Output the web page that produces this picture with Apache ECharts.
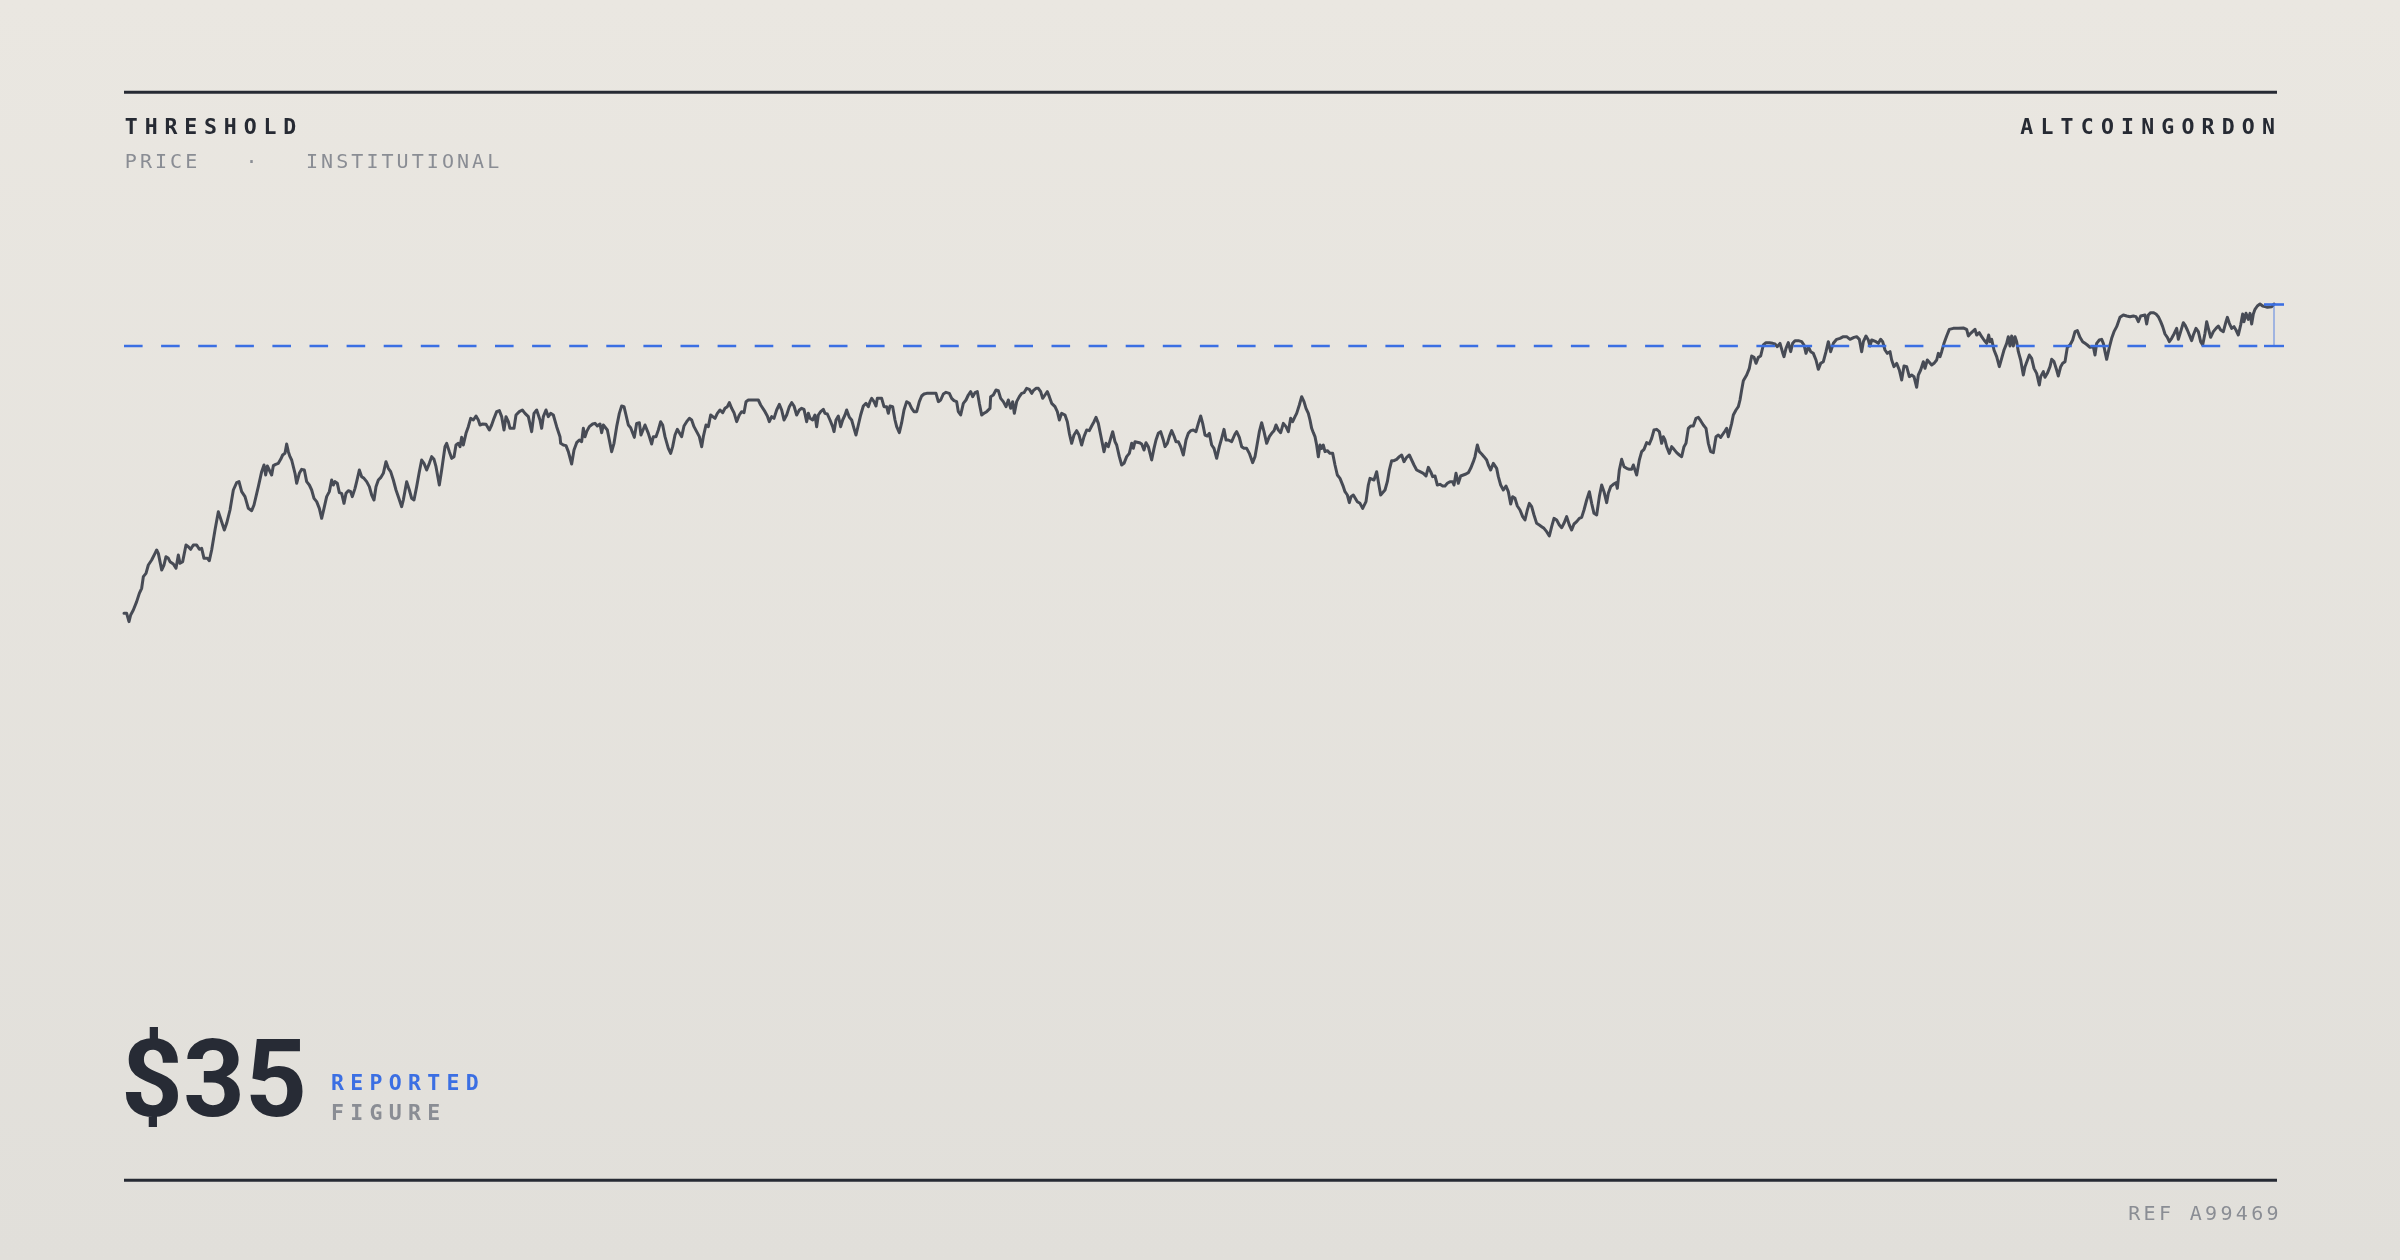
<!DOCTYPE html>
<html>
<head>
<meta charset="utf-8">
<script src="https://cdn.jsdelivr.net/npm/echarts@6/dist/echarts.min.js"></script>
<style>
  html, body { margin: 0; padding: 0; width: 2400px; height: 1260px; overflow: hidden; }
  #chart { width: 2400px; height: 1260px; }
</style>
</head>
<body>
<div id="chart"></div>
<script>
// ---- DATA: [hour, price in cents] ----
const leg1 = [[0,1644],[8,1644],[15,1594],[20,1634],[28,1664],[38,1714],[46,1764],[53,1794],[58,1864],[66,1884],[73,1934],[83,1964],[93,2004],[98,2024],[103,2004],[108,1954],[113,1904],[120,1934],[126,1984],[133,1974],[138,1954],[148,1940],[156,1914],[163,1994],[168,1944],[176,1954],[186,2054],[193,2044],[200,2028],[208,2054],[218,2054],[226,2028],[233,2034],[240,1974],[246,1964],[250,1974],[256,1960],[263,2024],[273,2144],[283,2254],[288,2224],[301,2144],[308,2184],[318,2264],[328,2384],[338,2428],[345,2434],[353,2374],[363,2344],[373,2274],[383,2260],[390,2294],[403,2404],[413,2494],[420,2534],[425,2474],[430,2528],[436,2540],[443,2474],[448,2530],[455,2538],[463,2544],[470,2568],[476,2594],[483,2604],[488,2660],[493,2614],[498,2584],[503,2564],[513,2484],[518,2424],[526,2484],[533,2508],[541,2504],[548,2434],[556,2414],[563,2384],[570,2334],[578,2314],[586,2274],[593,2214],[600,2274],[608,2344],[616,2374],[623,2444],[628,2414],[633,2434],[640,2424],[646,2368],[653,2364],[660,2304],[666,2364],[673,2380],[680,2374],[685,2344],[693,2394],[698,2434],[706,2504],[713,2464],[720,2454],[728,2434],[736,2404],[743,2354],[750,2324],[756,2404],[763,2444],[770,2458],[778,2484],[786,2554],[793,2514],[800,2494],[808,2444],[816,2384],[823,2344],[833,2284],[838,2324],[848,2434],[856,2384],[863,2334],[870,2324],[878,2404],[886,2494],[893,2564],[900,2544],[908,2504],[916,2544],[923,2584],[930,2568],[936,2524],[946,2414],[953,2504],[963,2644],[968,2664],[976,2614],[983,2574],[990,2584],[996,2654],[1003,2664],[1008,2644],[1013,2700],[1018,2654],[1026,2724],[1033,2764],[1040,2814],[1048,2804],[1056,2828],[1063,2804],[1068,2774],[1076,2780],[1086,2778],[1096,2744],[1103,2774],[1110,2814],[1118,2854],[1126,2860],[1133,2824],[1140,2744],[1146,2824],[1153,2794],[1158,2754],[1170,2754],[1176,2834],[1186,2854],[1195,2864],[1203,2844],[1213,2824],[1223,2734],[1230,2844],[1238,2864],[1248,2804],[1253,2754],[1258,2824],[1266,2864],[1273,2824],[1280,2844],[1288,2834],[1298,2764],[1308,2704]];

const leg2 = [[1310,2664],[1318,2654],[1326,2650],[1333,2614],[1343,2540],[1350,2624],[1358,2668],[1366,2684],[1373,2674],[1378,2754],[1383,2704],[1388,2734],[1396,2764],[1406,2780],[1413,2784],[1420,2768],[1428,2780],[1433,2728],[1438,2774],[1443,2778],[1450,2744],[1456,2684],[1463,2614],[1470,2664],[1478,2764],[1486,2844],[1493,2888],[1500,2884],[1506,2834],[1513,2774],[1520,2758],[1526,2754],[1531,2700],[1538,2784],[1546,2788],[1551,2714],[1556,2708],[1563,2774],[1568,2780],[1573,2724],[1583,2660],[1588,2704],[1596,2704],[1603,2744],[1610,2794],[1616,2774],[1623,2704],[1633,2634],[1640,2604],[1646,2644],[1653,2714],[1660,2748],[1666,2744],[1673,2704],[1680,2768],[1688,2794],[1696,2814],[1703,2804],[1710,2764],[1718,2734],[1726,2704],[1733,2644],[1738,2704],[1746,2774],[1753,2764],[1760,2834],[1766,2844],[1773,2814],[1780,2844],[1788,2864],[1796,2848],[1803,2874],[1810,2884],[1816,2908],[1823,2874],[1830,2848],[1838,2794],[1846,2834],[1853,2854],[1860,2848],[1866,2914],[1873,2924],[1883,2924],[1893,2924],[1903,2924],[1910,2894],[1916,2904],[1923,2854],[1930,2828],[1936,2794],[1943,2824],[1950,2814],[1958,2864],[1966,2898],[1973,2864],[1980,2804],[1988,2834],[1996,2884],[2003,2908],[2010,2888],[2018,2834],[2026,2864],[2033,2874],[2040,2868],[2048,2794],[2053,2844],[2058,2814],[2066,2804],[2073,2834],[2078,2764],[2083,2834],[2090,2854],[2098,2868],[2103,2844],[2110,2840],[2118,2804],[2126,2764],[2130,2734],[2136,2804],[2143,2828],[2150,2764],[2156,2804],[2163,2834],[2168,2864],[2176,2820],[2183,2804],[2190,2754],[2196,2714],[2203,2774],[2210,2834],[2218,2888],[2226,2904],[2233,2884],[2238,2914],[2243,2934],[2250,2914],[2256,2888],[2260,2934],[2266,2944],[2273,2934],[2280,2884],[2288,2884],[2293,2844],[2298,2888],[2306,2884],[2313,2804],[2318,2764],[2326,2728],[2333,2788],[2340,2864],[2348,2914],[2356,2904],[2363,2874],[2370,2854],[2378,2854],[2386,2914],[2393,2948],[2400,2960],[2408,2964],[2418,2964],[2428,2964],[2436,2964],[2443,2914],[2450,2924],[2458,2960],[2466,2970],[2476,2964],[2483,2934],[2490,2920],[2498,2914],[2503,2854],[2510,2834],[2518,2904],[2526,2924],[2533,2954],[2540,2974],[2546,2944],[2553,2968],[2560,2974],[2566,2904],[2573,2834],[2580,2844],[2588,2854],[2598,2874]];

const leg3 = [[2600,2944],[2608,2954],[2616,2984],[2623,2980],[2630,2934],[2638,2914],[2646,2884],[2653,2924],[2660,2874],[2666,2914],[2671,2844],[2678,2914],[2686,2944],[2693,2964],[2700,2968],[2708,2994],[2716,2988],[2723,2964],[2728,2980],[2736,2994],[2743,2994],[2750,2974],[2756,2934],[2763,2954],[2770,2974],[2776,2944],[2783,2904],[2793,2884],[2800,2854],[2806,2804],[2813,2844],[2823,2834],[2830,2794],[2836,2724],[2843,2664],[2850,2714],[2858,2740],[2865,2714],[2873,2654],[2880,2704],[2888,2744],[2896,2740],[2903,2768],[2910,2794],[2916,2820],[2923,2784],[2930,2714],[2940,2614],[2946,2664],[2953,2644],[2960,2694],[2966,2734],[2973,2674],[2978,2654],[2986,2584],[2993,2534],[3000,2544],[3008,2584],[3016,2604],[3023,2664],[3028,2634],[3033,2674],[3038,2684],[3046,2668],[3053,2660],[3060,2624],[3066,2668],[3073,2644],[3083,2564],[3090,2634],[3096,2684],[3103,2724],[3110,2734],[3118,2684],[3123,2644],[3130,2664],[3136,2704],[3143,2740],[3150,2708],[3156,2674],[3163,2674],[3170,2644],[3178,2594],[3186,2684],[3193,2724],[3200,2740],[3208,2744],[3216,2734],[3223,2784],[3230,2828],[3236,2784],[3243,2714],[3250,2708],[3256,2724],[3263,2654],[3270,2634],[3278,2574],[3286,2644],[3293,2694],[3300,2748],[3306,2684],[3313,2684],[3323,2674],[3333,2720],[3338,2734],[3346,2700],[3353,2644],[3360,2634],[3368,2634],[3376,2604],[3386,2548],[3393,2584],[3400,2664],[3406,2734],[3413,2788],[3420,2734],[3428,2664],[3436,2704],[3443,2724],[3450,2740],[3456,2774],[3463,2744],[3470,2728],[3478,2784],[3486,2764],[3493,2734],[3500,2814],[3506,2794],[3513,2824],[3518,2844],[3526,2894],[3533,2944],[3540,2914],[3546,2874],[3553,2844],[3558,2804],[3563,2754],[3568,2728],[3573,2704],[3578,2654],[3583,2584],[3588,2654],[3593,2634],[3598,2654],[3603,2614],[3610,2620],[3618,2604],[3626,2604],[3633,2534],[3640,2474],[3648,2454],[3653,2454],[3658,2404],[3663,2374],[3670,2354],[3676,2308],[3681,2344],[3688,2354],[3693,2354],[3700,2314],[3708,2304],[3716,2274],[3720,2268],[3726,2314],[3733,2414],[3738,2454],[3743,2444],[3750,2444],[3758,2494],[3763,2434],[3770,2354],[3776,2364],[3783,2384],[3790,2434],[3796,2504],[3803,2560],[3810,2560],[3818,2568],[3826,2584],[3833,2594],[3840,2554],[3848,2580],[3856,2594],[3863,2564],[3870,2534],[3878,2504],[3888,2494]];

const leg4 = [[3898,2484],[3906,2468],[3913,2520],[3920,2494],[3926,2464],[3933,2468],[3940,2414],[3948,2418],[3956,2408],[3963,2408],[3970,2424],[3978,2434],[3986,2434],[3990,2414],[3996,2484],[4003,2424],[4010,2468],[4018,2474],[4026,2480],[4033,2488],[4040,2514],[4048,2554],[4053,2584],[4060,2654],[4066,2614],[4073,2600],[4080,2584],[4088,2564],[4093,2534],[4100,2504],[4108,2544],[4113,2554],[4118,2514],[4123,2464],[4130,2414],[4138,2384],[4146,2408],[4153,2374],[4160,2300],[4166,2344],[4173,2334],[4180,2288],[4188,2264],[4196,2224],[4203,2204],[4210,2264],[4216,2304],[4223,2284],[4230,2234],[4238,2184],[4246,2174],[4253,2164],[4260,2154],[4268,2134],[4276,2108],[4283,2164],[4290,2214],[4298,2204],[4306,2174],[4313,2158],[4320,2184],[4328,2224],[4336,2174],[4343,2144],[4350,2180],[4358,2194],[4366,2214],[4373,2220],[4380,2264],[4388,2324],[4396,2374],[4403,2304],[4410,2244],[4418,2234],[4426,2344],[4433,2414],[4440,2374],[4448,2308],[4453,2364],[4460,2404],[4468,2418],[4476,2428],[4480,2394],[4486,2504],[4493,2568],[4500,2524],[4508,2514],[4516,2508],[4523,2508],[4528,2534],[4533,2504],[4538,2474],[4546,2564],[4553,2614],[4560,2628],[4568,2668],[4576,2660],[4583,2694],[4590,2744],[4598,2748],[4606,2734],[4613,2664],[4618,2704],[4623,2684],[4628,2644],[4636,2604],[4643,2644],[4650,2628],[4658,2608],[4666,2594],[4673,2584],[4680,2644],[4686,2664],[4693,2754],[4700,2768],[4708,2768],[4716,2814],[4723,2820],[4730,2800],[4738,2774],[4746,2754],[4753,2664],[4760,2614],[4768,2608],[4776,2704],[4783,2714],[4790,2700],[4796,2704],[4803,2738],[4808,2754],[4813,2704],[4818,2744],[4823,2784],[4828,2834],[4836,2864],[4843,2884],[4848,2924],[4853,2984],[4858,3040],[4868,3074],[4876,3114],[4883,3188],[4890,3180],[4896,3144],[4903,3180],[4910,3188],[4918,3254],[4926,3268],[4936,3268],[4946,3264],[4953,3260],[4960,3244],[4968,3264],[4976,3208],[4980,3184],[4986,3234],[4993,3268],[5000,3214],[5006,3264],[5013,3280],[5023,3280],[5033,3274],[5040,3254],[5046,3204],[5053,3244],[5060,3214],[5068,3204],[5076,3164],[5083,3108],[5090,3144],[5098,3154],[5106,3214],[5113,3274],[5120,3214],[5128,3264],[5138,3288],[5148,3294],[5158,3304],[5168,3304],[5178,3288]];

const leg5 = [[5183,3280],[5190,3300],[5198,3304],[5206,3288],[5213,3214],[5218,3274],[5226,3308],[5233,3284],[5238,3248],[5243,3284],[5248,3294],[5256,3274],[5263,3264],[5270,3288],[5276,3274],[5283,3224],[5290,3204],[5298,3214],[5303,3164],[5310,3124],[5318,3144],[5326,3104],[5333,3044],[5340,3128],[5348,3124],[5356,3064],[5363,3074],[5370,3064],[5378,3000],[5383,3074],[5390,3104],[5398,3154],[5403,3114],[5410,3164],[5416,3174],[5423,3134],[5430,3144],[5438,3164],[5443,3204],[5448,3184],[5453,3214],[5460,3264],[5468,3308],[5476,3348],[5488,3354],[5503,3354],[5518,3356],[5528,3348],[5533,3308],[5540,3324],[5546,3314],[5553,3348],[5558,3314],[5566,3328],[5573,3304],[5580,3284],[5588,3264],[5594,3314],[5598,3274],[5603,3288],[5610,3224],[5618,3184],[5626,3124],[5633,3174],[5640,3224],[5648,3264],[5653,3304],[5658,3248],[5663,3308],[5668,3248],[5673,3304],[5678,3274],[5683,3214],[5690,3164],[5698,3074],[5703,3124],[5708,3114],[5716,3194],[5723,3174],[5730,3114],[5738,3084],[5746,3014],[5750,3064],[5758,3094],[5763,3060],[5770,3084],[5778,3124],[5783,3168],[5790,3154],[5798,3104],[5803,3068],[5810,3124],[5816,3144],[5823,3154],[5830,3240],[5838,3254],[5846,3284],[5853,3334],[5860,3340],[5868,3300],[5876,3274],[5883,3264],[5890,3254],[5898,3240],[5908,3244],[5913,3194],[5918,3264],[5926,3284],[5933,3288],[5938,3264],[5943,3214],[5948,3168],[5956,3240],[5963,3294],[5970,3334],[5978,3364],[5988,3420],[5998,3434],[6008,3428],[6018,3424],[6028,3428],[6036,3424],[6043,3394],[6050,3428],[6056,3424],[6063,3434],[6068,3380],[6073,3434],[6080,3448],[6088,3448],[6096,3440],[6103,3424],[6110,3394],[6116,3364],[6123,3320],[6130,3300],[6136,3274],[6143,3294],[6150,3320],[6158,3354],[6163,3288],[6170,3334],[6178,3388],[6183,3374],[6190,3344],[6196,3354],[6203,3280],[6208,3314],[6216,3354],[6223,3334],[6230,3274],[6236,3254],[6243,3324],[6248,3394],[6253,3354],[6260,3300],[6268,3334],[6276,3354],[6283,3368],[6290,3344],[6298,3334],[6306,3394],[6310,3420],[6316,3384],[6323,3354],[6330,3364],[6336,3344],[6343,3314],[6350,3374],[6356,3440],[6360,3394],[6366,3444],[6373,3408],[6378,3444],[6383,3380],[6388,3440],[6393,3468],[6400,3488],[6408,3500],[6416,3488],[6423,3484],[6430,3480],[6436,3488],[6443,3484],[6450,3500]];

const thresholdCents = 3248;
const lastHour = 6450;
const reportedFigure = '$35';
const titleText = 'THRESHOLD';
const subtitleText = 'PRICE   \u00B7   INSTITUTIONAL';
const brandText = 'ALTCOINGORDON';
const refText = 'REF A99469';
const tagTop = 'REPORTED';
const tagBottom = 'FIGURE';

// ---- STYLE ----
const INK = '#262a33';
const MUTED = '#8a8d94';
const BLUE = '#3b6fe3';
const LINE = '#474b55';
const MONO = "'DejaVu Sans Mono', 'Liberation Mono', monospace";

const priceSeries = [].concat(leg1, leg2, leg3, leg4, leg5);
const lastPrice = priceSeries[priceSeries.length - 1][1];

function spaced(str, firstCenterX, centerY, pitch, font, color) {
  const out = [];
  for (let i = 0; i < str.length; i++) {
    const ch = str[i];
    if (ch === ' ') continue;
    out.push({
      type: 'text', x: firstCenterX + i * pitch, y: centerY, silent: true,
      style: { text: ch, font: font, fill: color,
        align: 'center', verticalAlign: 'middle',
        textAlign: 'center', textVerticalAlign: 'middle' }
    });
  }
  return out;
}

const graphics = [
  { type: 'rect', silent: true, shape: { x: 124, y: 90.8, width: 2153, height: 3 }, style: { fill: INK } },
  { type: 'rect', silent: true, shape: { x: 124, y: 1178.7, width: 2153, height: 3 }, style: { fill: INK } },
  { type: 'text', x: 121, y: 1089, silent: true,
    style: { text: reportedFigure, font: "700 108px Roboto, Inter, sans-serif", fill: '#272b35',
      align: 'left', verticalAlign: 'middle', textAlign: 'left', textVerticalAlign: 'middle' } }
]
  .concat(spaced(titleText, 131.3, 128.5, 19.8, "bold 21.5px " + MONO, INK))
  .concat(spaced(subtitleText, 130.8, 162.7, 15.1, "20px " + MONO, MUTED))
  .concat(spaced(brandText, 2026.8, 128.5, 20.14, "bold 21.5px " + MONO, INK))
  .concat(spaced(tagTop, 337.5, 1084.5, 19.24, "bold 21.5px " + MONO, BLUE))
  .concat(spaced(tagBottom, 337.5, 1114.5, 19.24, "bold 21.5px " + MONO, MUTED))
  .concat(spaced(refText, 2134.2, 1214.5, 15.37, "20px " + MONO, MUTED));

const chart = echarts.init(document.getElementById('chart'), null, { renderer: 'canvas' });
chart.setOption({
  animation: false,
  backgroundColor: {
    type: 'linear', x: 0, y: 0, x2: 0, y2: 1,
    colorStops: [{ offset: 0, color: '#eae7e1' }, { offset: 1, color: '#e1dfda' }]
  },
  grid: { left: 124, right: 116, top: 204, bottom: 456, containLabel: false },
  xAxis: { type: 'value', min: 0, max: 6480, show: false, splitLine: { show: false } },
  yAxis: { type: 'value', min: 500, max: 4100, show: false, splitLine: { show: false } },
  series: [{
    type: 'line',
    data: priceSeries,
    showSymbol: false,
    symbol: 'none',
    silent: true,
    clip: false,
    lineStyle: { color: LINE, width: 3, join: 'round', cap: 'round' },
    markLine: {
      silent: true,
      symbol: ['none', 'none'],
      label: { show: false },
      animation: false,
      data: [
        [{ coord: [0, thresholdCents], lineStyle: { color: BLUE, width: 2.4, type: [18.6, 18.5] } },
         { coord: [lastHour, thresholdCents] }],
        [{ coord: [lastHour, thresholdCents], lineStyle: { color: 'rgba(59,111,227,0.55)', width: 1.5, type: 'solid' } },
         { coord: [lastHour, lastPrice] }],
        [{ coord: [lastHour - 30, lastPrice], lineStyle: { color: BLUE, width: 2.6, type: 'solid' } },
         { coord: [lastHour + 30, lastPrice] }],
        [{ coord: [lastHour - 30, thresholdCents], lineStyle: { color: BLUE, width: 2.4, type: 'solid' } },
         { coord: [lastHour + 30, thresholdCents] }]
      ]
    }
  }],
  graphic: { elements: graphics }
});
</script>
</body>
</html>
